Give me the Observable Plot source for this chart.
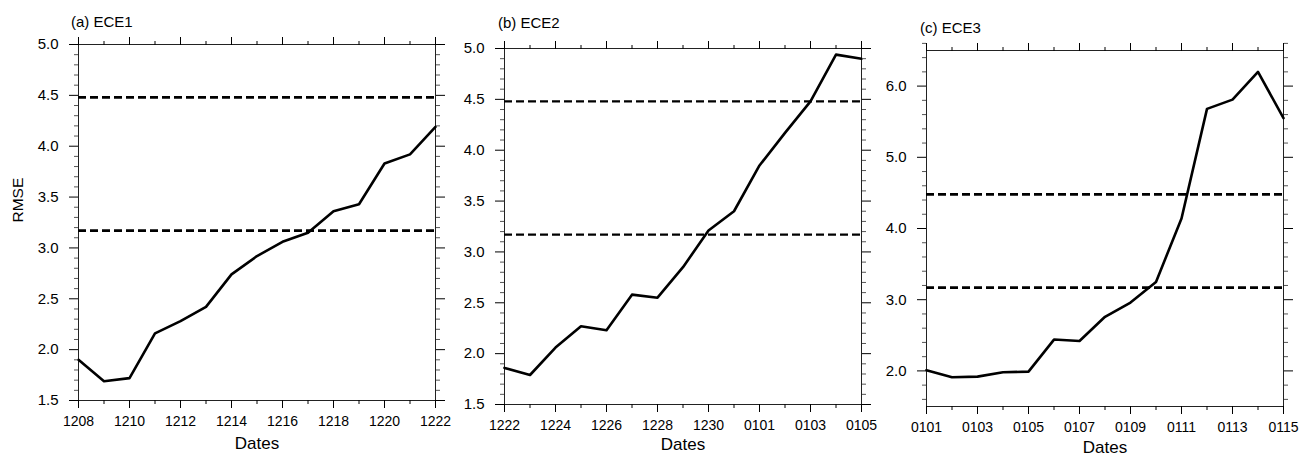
<!DOCTYPE html>
<html><head><meta charset="utf-8">
<script src="https://cdn.jsdelivr.net/npm/d3@7"></script>
<script src="https://cdn.jsdelivr.net/npm/@observablehq/plot@0.6"></script>
<style>
body{margin:0;background:#fff;}
#wrap{position:relative;width:1301px;height:459px;font-family:"Liberation Sans",Arial,Helvetica,sans-serif;overflow:hidden;background:#fff;}
.panel{position:absolute;top:0;}
.title{position:absolute;font-size:15px;color:#000;line-height:16px;white-space:nowrap;}
</style></head><body><div id="wrap"></div>
<script>
// ---- data ----
const datesA = ["1208","1209","1210","1211","1212","1213","1214","1215","1216","1217","1218","1219","1220","1221","1222"];
const rmseA  = [1.90,1.69,1.72,2.16,2.28,2.42,2.74,2.92,3.06,3.15,3.36,3.43,3.83,3.92,4.19];
const datesB = ["1222","1223","1224","1225","1226","1227","1228","1229","1230","1231","0101","0102","0103","0104","0105"];
const rmseB  = [1.86,1.79,2.06,2.27,2.23,2.58,2.55,2.85,3.21,3.40,3.85,4.17,4.48,4.94,4.90];
const datesC = ["0101","0102","0103","0104","0105","0106","0107","0108","0109","0110","0111","0112","0113","0114","0115"];
const rmseC  = [2.01,1.91,1.92,1.98,1.99,2.44,2.42,2.76,2.96,3.25,4.14,5.68,5.81,6.20,5.55];
const thresholds = [4.48, 3.17];
const titles = ["(a) ECE1", "(b) ECE2", "(c) ECE3"];
const yTicksAB = [1.5,2.0,2.5,3.0,3.5,4.0,4.5,5.0];
const yTicksC  = [2.0,3.0,4.0,5.0,6.0];

const wrap = document.getElementById("wrap");
const fmt = d3.format(".1f");

function panel(cfg) {
  const n = cfg.dates.length;
  const idx = d3.range(n);
  const xMajor = idx.filter(i => i % 2 === 0);
  const xMinor = idx.filter(i => i % 2 === 1);
  const yMinor = d3.range(Math.round(cfg.yDomain[0]/cfg.minorStep), Math.round(cfg.yDomain[1]/cfg.minorStep)+1)
    .map(k => +(k*cfg.minorStep).toFixed(2))
    .filter(v => !cfg.yMajor.some(m => Math.abs(m - v) < 1e-6));
  const data = idx.map(i => ({i, v: cfg.values[i]}));
  const marks = [
    Plot.frame({stroke: "#222", strokeWidth: 1}),
    Plot.ruleY(thresholds, {stroke: "#000", strokeWidth: cfg.dashWidth, strokeDasharray: "8,4"}),
    Plot.line(data, {x: "i", y: "v", stroke: "#000", strokeWidth: 2.6, strokeLinejoin: "round"}),
    Plot.axisX({anchor: "bottom", ticks: xMajor, tickSize: 8, tickPadding: 8, fontSize: 14, tickFormat: i => cfg.dates[i], label: null}),
    Plot.axisX({anchor: "bottom", ticks: xMinor, tickSize: 4, tickFormat: () => "", label: null}),
    Plot.axisX({anchor: "top", ticks: xMajor, tickSize: 8, tickFormat: () => "", label: null}),
    Plot.axisX({anchor: "top", ticks: xMinor, tickSize: 4, tickFormat: () => "", label: null}),
    Plot.axisY({anchor: "left", ticks: cfg.yMajor, tickSize: 9, tickPadding: 11, fontSize: 15, tickFormat: fmt, label: null}),
    Plot.axisY({anchor: "left", ticks: yMinor, tickSize: 4, tickFormat: () => "", label: null, stroke: "#555"}),
    Plot.axisY({anchor: "right", ticks: cfg.yMajor, tickSize: 9, tickFormat: () => "", label: null}),
    Plot.axisY({anchor: "right", ticks: yMinor, tickSize: 4, tickFormat: () => "", label: null, stroke: "#555"}),
    Plot.text(["Dates"], {text: d => d, frameAnchor: "bottom", dy: cfg.dl, fontSize: 17, fill: "#000"})
  ];
  if (cfg.yLabel) {
    marks.push(Plot.text([cfg.yLabel], {text: d => d, frameAnchor: "left", dx: -60, rotate: -90, fontSize: 15.5, fill: "#000"}));
  }
  const svg = Plot.plot({
    width: cfg.width, height: 459,
    marginLeft: cfg.ml, marginRight: cfg.mr, marginTop: cfg.mt, marginBottom: cfg.mb,
    style: {background: "transparent", overflow: "visible", fontFamily: "Liberation Sans, Arial, Helvetica, sans-serif", fontSize: "14px", color: "#000"},
    x: {domain: [0, n - 1]},
    y: {domain: cfg.yDomain},
    marks
  });
  const div = document.createElement("div");
  div.className = "panel";
  div.style.left = cfg.left + "px";
  div.appendChild(svg);
  wrap.appendChild(div);
  const t = document.createElement("div");
  t.className = "title";
  t.textContent = cfg.title;
  t.style.left = cfg.tx + "px";
  t.style.top = cfg.ty + "px";
  wrap.appendChild(t);
}

panel({dates: datesA, values: rmseA, yDomain: [1.5, 5.0], yMajor: yTicksAB, minorStep: 0.1,
  left: 0, width: 440, ml: 78, mr: 5, mt: 44, mb: 59, dashWidth: 2.8, dl: 48, yLabel: "RMSE", title: titles[0], tx: 71, ty: 14});
panel({dates: datesB, values: rmseB, yDomain: [1.5, 5.0], yMajor: yTicksAB, minorStep: 0.1,
  left: 440, width: 430, ml: 64, mr: 9, mt: 48, mb: 55, dashWidth: 2.2, dl: 45, yLabel: null, title: titles[1], tx: 498, ty: 15});
panel({dates: datesC, values: rmseC, yDomain: [1.5, 6.5], yMajor: yTicksC, minorStep: 0.2,
  left: 870, width: 431, ml: 56, mr: 18, mt: 50, mb: 53, dashWidth: 2.8, dl: 46, yLabel: null, title: titles[2], tx: 920, ty: 20});
</script></body></html>
